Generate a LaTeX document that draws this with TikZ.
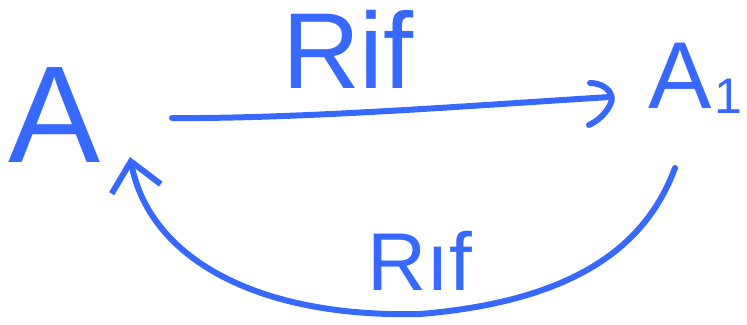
\documentclass[tikz,border=0pt]{standalone}
\usepackage{fontspec}
\setmainfont{Liberation Sans}
\usetikzlibrary{arrows.meta,calc}
\definecolor{ink}{RGB}{55,104,255}
\tikzset{
  lbl/.style={text=ink, inner sep=0pt, anchor=base},
  conn/.style={draw=ink, line width=6pt, line cap=round, line join=round},
}
\begin{document}
\begin{tikzpicture}[x=1pt,y=-1pt]
\useasboundingbox (0,0) rectangle (747,324);
\node[lbl, font=\fontsize{138}{140}\selectfont] (A) at (55,162) {A};
\node[lbl, font=\fontsize{95}{100}\selectfont] (A1) at (680,108) {A};
\node[lbl, font=\fontsize{50}{54}\selectfont] (one) at (728,113) {1};
\node[lbl, font=\fontsize{108}{115}\selectfont] (top) at (348,88) {Rif};
\node[lbl, font=\fontsize{82}{86}\selectfont] (bot) at (420,290) {R\i f};
\coordinate (s1) at (172,118);
\coordinate (e1) at (610,97);
\coordinate (s2) at (675,168);
\coordinate (e2) at (130,157);
\draw[conn] (s1) .. controls (300,119) and (480,105) .. (e1);
\draw[conn] ($(e1)+(-20,-14)$) .. controls ($(e1)+(-4,-14)$) and ($(e1)+(6,-2)$) .. ($(e1)+(0,8)$) .. controls ($(e1)+(-4,16)$) and ($(e1)+(-12,24)$) .. ($(e1)+(-21,28)$);
\draw[conn, -{Straight Barb[width=50pt,length=28pt]}] (s2) .. controls (650,235) and (590,300) .. (420,314) .. controls (260,318) and (150,260) .. (e2);
\end{tikzpicture}
\end{document}
